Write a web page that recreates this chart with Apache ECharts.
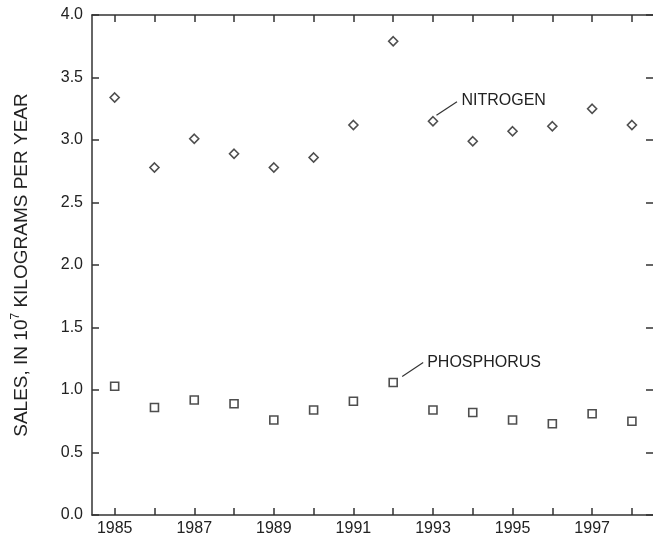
<!DOCTYPE html>
<html>
<head>
<meta charset="utf-8">
<script src="https://cdn.jsdelivr.net/npm/echarts@6/dist/echarts.min.js"></script>
<style>
  html, body { margin: 0; padding: 0; background: #fff; }
  #chart { width: 653px; height: 538px; }
</style>
</head>
<body>
<div id="chart"></div>
<script>
var years = [1985, 1986, 1987, 1988, 1989, 1990, 1991, 1992, 1993, 1994, 1995, 1996, 1997, 1998];
var nitrogen = [3.34, 2.78, 3.01, 2.89, 2.78, 2.86, 3.12, 3.79, 3.15, 2.99, 3.07, 3.11, 3.25, 3.12];
var phosphorus = [1.03, 0.86, 0.92, 0.89, 0.76, 0.84, 0.91, 1.06, 0.84, 0.82, 0.76, 0.73, 0.81, 0.75];
var yearLabels = [1985, 1987, 1989, 1991, 1993, 1995, 1997];

var ink = '#333';
var font = 'Liberation Sans, Arial, sans-serif';

function pairs(vals) {
  return years.map(function (y, i) { return [y, vals[i]]; });
}

var chart = echarts.init(document.getElementById('chart'));

var xBase = {
  type: 'value',
  min: 1984.43,
  max: 1998.53,
  axisLine: { show: true, onZero: false, lineStyle: { color: ink, width: 1.5 } },
  axisTick: { show: true, inside: true, length: 7, customValues: years, lineStyle: { color: ink, width: 1.5 } },
  splitLine: { show: false }
};
var yBase = {
  type: 'value',
  min: 0,
  max: 4,
  interval: 0.5,
  axisLine: { show: true, lineStyle: { color: ink, width: 1.5 } },
  axisTick: { show: true, inside: true, length: 7, lineStyle: { color: ink, width: 1.5 } },
  splitLine: { show: false }
};

chart.setOption({
  animation: false,
  grid: { left: 92, right: -1, top: 15, bottom: 23 },
  xAxis: [
    Object.assign({}, xBase, {
      position: 'bottom',
      axisLabel: { customValues: yearLabels, color: '#222', fontSize: 16, fontFamily: font, margin: 6,
        formatter: function (v) { return String(v); } }
    }),
    Object.assign({}, xBase, { position: 'top', axisLabel: { show: false } })
  ],
  yAxis: [
    Object.assign({}, yBase, {
      position: 'left',
      name: 'SALES, IN 10{sup|7} KILOGRAMS PER YEAR',
      nameLocation: 'middle',
      nameGap: 58,
      nameTextStyle: {
        color: '#222', fontSize: 19, fontFamily: font,
        rich: { sup: { fontSize: 12, verticalAlign: 'top', padding: [0, 0, 12, 0], color: '#222', fontFamily: font } }
      },
      axisLabel: { color: '#222', fontSize: 16, fontFamily: font, margin: 9, formatter: function (v) { return v.toFixed(1); } }
    }),
    Object.assign({}, yBase, { position: 'right', axisLine: { show: false }, axisLabel: { show: false } })
  ],
  series: [
    {
      name: 'NITROGEN',
      type: 'scatter',
      symbol: 'diamond',
      symbolSize: 9,
      itemStyle: { color: '#fff', borderColor: '#222', borderWidth: 1.6 },
      data: pairs(nitrogen)
    },
    {
      name: 'PHOSPHORUS',
      type: 'scatter',
      symbol: 'rect',
      symbolSize: 8,
      itemStyle: { color: '#fff', borderColor: '#222', borderWidth: 1.6 },
      data: pairs(phosphorus)
    }
  ]
});

// callout labels anchored to the 1993 nitrogen and 1992 phosphorus points
function callout(text, year, vals, d) {
  var p = chart.convertToPixel({ gridIndex: 0 }, [year, vals[years.indexOf(year)]]);
  return [
    { type: 'line', shape: { x1: p[0] + d[0], y1: p[1] + d[1], x2: p[0] + d[2], y2: p[1] + d[3] },
      style: { stroke: ink, lineWidth: 1.2 } },
    { type: 'text', x: p[0] + d[4], y: p[1] + d[5],
      style: { text: text, fill: '#222', fontSize: 16, fontFamily: font, verticalAlign: 'middle' } }
  ];
}

chart.setOption({
  graphic: callout('NITROGEN', 1993, nitrogen, [3.5, -6, 24, -19.5, 28.5, -20.5])
    .concat(callout('PHOSPHORUS', 1992, phosphorus, [9, -6, 30, -20, 34, -19.5]))
});
</script>
</body>
</html>
